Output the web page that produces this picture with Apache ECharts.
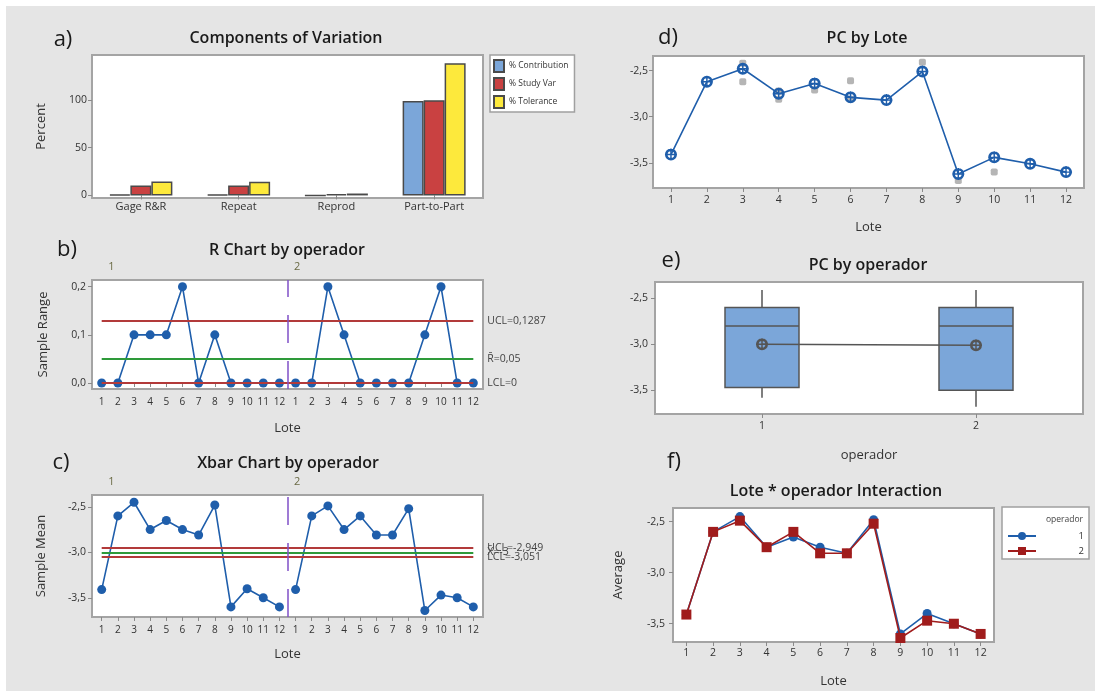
<!DOCTYPE html>
<html>
<head>
<meta charset="utf-8">
<script src="https://cdn.jsdelivr.net/npm/echarts@6/dist/echarts.min.js"></script>
<style>
  html, body { margin: 0; padding: 0; background: #ffffff; }
  #chart { width: 1095px; height: 691px; }
</style>
</head>
<body>
<div id="chart"></div>
<script>
// ---- Gage R&R study: components of variation ----
const componentNames = ['Gage R&R', 'Repeat', 'Reprod', 'Part-to-Part'];
const pctContribution = [1.1, 1.1, 0.05, 98.9];
const pctStudyVar = [10.4, 10.3, 1.5, 99.5];
const pctTolerance = [14.5, 14.3, 2.0, 138.4];
const componentSeriesNames = ['% Contribution', '% Study Var', '% Tolerance'];

// ---- Lots and operators ----
const loteLabels = ['1', '2', '3', '4', '5', '6', '7', '8', '9', '10', '11', '12'];
const operadorLabels = ['1', '2'];

// R chart by operator (sample ranges per lot)
const rangeOp1 = [0, 0, 0.1, 0.1, 0.1, 0.2, 0, 0.1, 0, 0, 0, 0];
const rangeOp2 = [0, 0, 0.2, 0.1, 0, 0, 0, 0, 0.1, 0.2, 0, 0];
const rLimits = { ucl: 0.1287, center: 0.05, lcl: 0 };

// Xbar chart by operator (sample means per lot) - also used by the interaction plot
const meanOp1 = [-3.41, -2.6, -2.45, -2.75, -2.65, -2.75, -2.81, -2.48, -3.6, -3.4, -3.5, -3.6];
const meanOp2 = [-3.41, -2.6, -2.49, -2.75, -2.6, -2.81, -2.81, -2.52, -3.64, -3.47, -3.5, -3.6];
const xLimits = { ucl: -2.949, center: -3, lcl: -3.051 };

// PC by Lote: lot means and the individual readings that stand apart from them
const loteMeans = [-3.41, -2.62, -2.48, -2.75, -2.64, -2.79, -2.82, -2.51, -3.62, -3.44, -3.51, -3.6];
const loteObservations = [
  [3, -2.42], [3, -2.62], [4, -2.72], [4, -2.81], [5, -2.71],
  [6, -2.61], [6, -2.81], [8, -2.41], [9, -3.69], [10, -3.6]
];

// PC by operador: [min, Q1, median, Q3, max] and mean per operator
const operadorBox = [
  [-3.58, -3.47, -2.8, -2.6, -2.41],
  [-3.68, -3.5, -2.8, -2.6, -2.41]
];
const operadorMeans = [-3.0, -3.01];

// ---- helpers ----
const FONT = 'Open Sans';
const TEXT = '#333333';
const BLUE = '#1f5eab';
const DARKRED = '#a01c1c';
const comma = v => v.toFixed(1).replace('.', ',');
const commaRaw = v => String(v).replace('.', ',');
const loteSeq = loteLabels.map((_, i) => i + 1);
const loteSeq24 = loteSeq.concat(loteSeq.map(v => v + 12));
// circle with a cross (mean marker)
const CIRCLE_CROSS = 'path://M10,0A10,10 0 1,1 10,20A10,10 0 1,1 10,0Z M10,4.4A5.6,5.6 0 1,0 10,15.6A5.6,5.6 0 1,0 10,4.4Z M8.8,0L11.2,0L11.2,20L8.8,20Z M0,8.8L20,8.8L20,11.2L0,11.2Z';

const gridBase = {
  show: true, backgroundColor: '#ffffff', borderColor: '#a4a4a4', borderWidth: 2,
  containLabel: false, outerBoundsMode: 'none'
};
const tick = { show: true, inside: false, length: 4, lineStyle: { color: '#8a8a8a', width: 1 } };
const lbl = (extra) => Object.assign({ color: TEXT, fontFamily: FONT, fontSize: 10.5 }, extra);
const axisName = { color: TEXT, fontFamily: FONT, fontSize: 13 };

function titleAt(text, x, y, size, weight) {
  return {
    text, left: x, top: y, textAlign: 'center', textVerticalAlign: 'middle', padding: 0,
    textStyle: { fontFamily: FONT, fontSize: size, fontWeight: weight, color: '#1a1a1a' }
  };
}

// ---- limit lines for the control charts ----
function limitLines(lim, labels) {
  const red = { color: '#b23a3a', width: 2, type: 'solid' };
  const green = { color: '#2e9a3a', width: 2, type: 'solid' };
  const seg = (v, name, style) => [
    { name, coord: [1, v], lineStyle: style },
    { coord: [24, v] }
  ];
  return {
    silent: true, symbol: ['none', 'none'],
    label: { show: true, position: 'end', distance: 14, formatter: '{b}', color: '#444', fontFamily: FONT, fontSize: 10.5 },
    data: [
      seg(lim.ucl, labels[0], red),
      seg(lim.center, labels[1], green),
      seg(lim.lcl, labels[2], red),
      { xAxis: 12.5, label: { show: false }, lineStyle: { color: '#8050c8', width: 1.5, type: [28, 18] } }
    ]
  };
}

const chart = echarts.init(document.getElementById('chart'), null, { renderer: 'canvas' });

const option = {
  animation: false,
  backgroundColor: '#e5e5e5',
  graphic: [
    { type: 'rect', shape: { x: 0, y: 0, width: 1095, height: 6 }, style: { fill: '#ffffff' }, silent: true },
    { type: 'rect', shape: { x: 0, y: 0, width: 6, height: 691 }, style: { fill: '#ffffff' }, silent: true }
  ],
  title: [
    titleAt('a)', 63, 40, 22, 'normal'),
    titleAt('b)', 67, 250, 22, 'normal'),
    titleAt('c)', 61, 463, 22, 'normal'),
    titleAt('d)', 668, 38, 22, 'normal'),
    titleAt('e)', 671, 261, 22, 'normal'),
    titleAt('f)', 674, 462, 22, 'normal'),
    titleAt('Components of Variation', 286, 38, 16, 600),
    titleAt('R Chart by operador', 287, 250, 16, 600),
    titleAt('Xbar Chart by operador', 288, 463, 16, 600),
    titleAt('PC by Lote', 867, 38, 16, 600),
    titleAt('PC by operador', 868, 265, 16, 600),
    titleAt('Lote * operador Interaction', 836, 491, 16, 600),
    {
      text: 'operador', right: 12, top: 520, textVerticalAlign: 'middle', padding: 0,
      textStyle: { fontFamily: FONT, fontSize: 8.5, fontWeight: 'normal', color: '#444' }
    }
  ],
  legend: [
    {
      data: componentSeriesNames, orient: 'vertical', left: 490, top: 55,
      icon: 'rect', itemWidth: 10, itemHeight: 12, itemGap: 4,
      padding: [4, 6, 3, 3],
      backgroundColor: '#ffffff', borderColor: '#a0a0a0', borderWidth: 1.5,
      formatter: '{t|{name}}',
      textStyle: { rich: { t: { width: 72, fontFamily: FONT, fontSize: 8.5, color: TEXT } } },
      selectedMode: false
    },
    {
      data: operadorLabels, orient: 'vertical', left: 1002, top: 507,
      itemWidth: 28, itemHeight: 10, itemGap: 5,
      padding: [24, 5, 3, 5],
      backgroundColor: '#ffffff', borderColor: '#a0a0a0', borderWidth: 1.5,
      formatter: '{r|{name}}',
      textStyle: { rich: { r: { width: 43, align: 'right', fontFamily: FONT, fontSize: 9.5, color: TEXT } } },
      selectedMode: false
    }
  ],
  grid: [
    Object.assign({ left: 92, top: 55, width: 391, height: 143 }, gridBase),     // a
    Object.assign({ left: 92, top: 280, width: 391, height: 109 }, gridBase),    // b
    Object.assign({ left: 92, top: 495, width: 391, height: 122 }, gridBase),    // c
    Object.assign({ left: 653, top: 56, width: 431, height: 132 }, gridBase),    // d
    Object.assign({ left: 655, top: 282, width: 428, height: 132 }, gridBase),   // e
    Object.assign({ left: 673, top: 508, width: 321, height: 134 }, gridBase)    // f
  ],
  xAxis: [
    { // 0: a
      type: 'category', gridIndex: 0, data: componentNames,
      axisLine: { show: false }, axisTick: Object.assign({ alignWithLabel: true }, tick),
      axisLabel: lbl({ margin: 3, fontSize: 11 })
    },
    { // 1: b bottom
      type: 'value', gridIndex: 1, min: 0.4, max: 24.6,
      axisLine: { show: false }, splitLine: { show: false },
      axisTick: Object.assign({ customValues: loteSeq24 }, tick),
      axisLabel: lbl({ customValues: loteSeq24, margin: 8, fontSize: 10, formatter: v => loteLabels[(Math.round(v) - 1) % 12] }),
      name: 'Lote', nameLocation: 'middle', nameGap: 33, nameTextStyle: axisName
    },
    { // 2: b top (operator groups)
      type: 'value', gridIndex: 1, position: 'top', min: 0.4, max: 24.6,
      axisLine: { show: false }, splitLine: { show: false }, axisTick: { show: false },
      axisLabel: lbl({ customValues: [1.6, 13.1], margin: 8, fontSize: 11, color: '#6b6b45', formatter: v => operadorLabels[v < 12.5 ? 0 : 1] })
    },
    { // 3: c bottom
      type: 'value', gridIndex: 2, min: 0.4, max: 24.6,
      axisLine: { show: false }, splitLine: { show: false },
      axisTick: Object.assign({ customValues: loteSeq24 }, tick),
      axisLabel: lbl({ customValues: loteSeq24, margin: 8, fontSize: 10, formatter: v => loteLabels[(Math.round(v) - 1) % 12] }),
      name: 'Lote', nameLocation: 'middle', nameGap: 31, nameTextStyle: axisName
    },
    { // 4: c top (operator groups)
      type: 'value', gridIndex: 2, position: 'top', min: 0.4, max: 24.6,
      axisLine: { show: false }, splitLine: { show: false }, axisTick: { show: false },
      axisLabel: lbl({ customValues: [1.6, 13.1], margin: 8, fontSize: 11, color: '#6b6b45', formatter: v => operadorLabels[v < 12.5 ? 0 : 1] })
    },
    { // 5: d
      type: 'value', gridIndex: 3, min: 0.5, max: 12.5,
      axisLine: { show: false }, splitLine: { show: false },
      axisTick: Object.assign({ customValues: loteSeq }, tick),
      axisLabel: lbl({ customValues: loteSeq, margin: 7, formatter: v => loteLabels[Math.round(v) - 1] }),
      name: 'Lote', nameLocation: 'middle', nameGap: 33, nameTextStyle: axisName
    },
    { // 6: e
      type: 'category', gridIndex: 4, data: operadorLabels,
      axisLine: { show: false }, axisTick: Object.assign({ alignWithLabel: true }, tick),
      axisLabel: lbl({ margin: 7 }),
      name: 'operador', nameLocation: 'middle', nameGap: 35, nameTextStyle: axisName
    },
    { // 7: f
      type: 'value', gridIndex: 5, min: 0.5, max: 12.5,
      axisLine: { show: false }, splitLine: { show: false },
      axisTick: Object.assign({ customValues: loteSeq }, tick),
      axisLabel: lbl({ customValues: loteSeq, margin: 6, formatter: v => loteLabels[Math.round(v) - 1] }),
      name: 'Lote', nameLocation: 'middle', nameGap: 33, nameTextStyle: axisName
    }
  ],
  yAxis: [
    { // a
      type: 'value', gridIndex: 0, min: -2.7, max: 147,
      axisLine: { show: false }, splitLine: { show: false },
      axisTick: Object.assign({ customValues: [0, 50, 100] }, tick),
      axisLabel: lbl({ customValues: [0, 50, 100], margin: 5 }),
      name: 'Percent', nameLocation: 'middle', nameGap: 44, nameTextStyle: axisName
    },
    { // b
      type: 'value', gridIndex: 1, min: -0.0124, max: 0.2139,
      axisLine: { show: false }, splitLine: { show: false },
      axisTick: Object.assign({ customValues: [0, 0.1, 0.2] }, tick),
      axisLabel: lbl({ customValues: [0, 0.1, 0.2], margin: 6, formatter: comma }),
      name: 'Sample Range', nameLocation: 'middle', nameGap: 42, nameTextStyle: axisName
    },
    { // c
      type: 'value', gridIndex: 2, min: -3.711, max: -2.37,
      axisLine: { show: false }, splitLine: { show: false },
      axisTick: Object.assign({ customValues: [-3.5, -3, -2.5] }, tick),
      axisLabel: lbl({ customValues: [-3.5, -3, -2.5], margin: 6, formatter: comma }),
      name: 'Sample Mean', nameLocation: 'middle', nameGap: 44, nameTextStyle: axisName
    },
    { // d
      type: 'value', gridIndex: 3, min: -3.772, max: -2.342,
      axisLine: { show: false }, splitLine: { show: false },
      axisTick: Object.assign({ customValues: [-3.5, -3, -2.5] }, tick),
      axisLabel: lbl({ customValues: [-3.5, -3, -2.5], margin: 5, formatter: comma })
    },
    { // e
      type: 'value', gridIndex: 4, min: -3.758, max: -2.322,
      axisLine: { show: false }, splitLine: { show: false },
      axisTick: Object.assign({ customValues: [-3.5, -3, -2.5] }, tick),
      axisLabel: lbl({ customValues: [-3.5, -3, -2.5], margin: 7, formatter: comma })
    },
    { // f
      type: 'value', gridIndex: 5, min: -3.679, max: -2.366,
      axisLine: { show: false }, splitLine: { show: false },
      axisTick: Object.assign({ customValues: [-3.5, -3, -2.5] }, tick),
      axisLabel: lbl({ customValues: [-3.5, -3, -2.5], margin: 8, formatter: comma }),
      name: 'Average', nameLocation: 'middle', nameGap: 48, nameTextStyle: axisName
    }
  ],
  series: [
    // a) components of variation
    {
      type: 'bar', name: componentSeriesNames[0], xAxisIndex: 0, yAxisIndex: 0, data: pctContribution,
      barWidth: 21, barGap: '0%', itemStyle: { color: '#7ba6d9', borderColor: '#4a4a4a', borderWidth: 1.5 }
    },
    {
      type: 'bar', name: componentSeriesNames[1], xAxisIndex: 0, yAxisIndex: 0, data: pctStudyVar,
      barWidth: 21, barGap: '0%', itemStyle: { color: '#c94141', borderColor: '#4a4a4a', borderWidth: 1.5 }
    },
    {
      type: 'bar', name: componentSeriesNames[2], xAxisIndex: 0, yAxisIndex: 0, data: pctTolerance,
      barWidth: 21, barGap: '0%', itemStyle: { color: '#fde93c', borderColor: '#4a4a4a', borderWidth: 1.5 }
    },

    // b) R chart by operator
    {
      type: 'line', name: 'R op1', xAxisIndex: 1, yAxisIndex: 1,
      data: rangeOp1.map((v, i) => [loteSeq24[i], v]),
      symbol: 'circle', symbolSize: 9, z: 3,
      lineStyle: { color: BLUE, width: 1.6 }, itemStyle: { color: BLUE },
      markLine: limitLines(rLimits, [
        'UCL=' + commaRaw(rLimits.ucl),
        'R\u0304=' + commaRaw(rLimits.center),
        'LCL=' + commaRaw(rLimits.lcl)
      ])
    },
    {
      type: 'line', name: 'R op2', xAxisIndex: 1, yAxisIndex: 1,
      data: rangeOp2.map((v, i) => [loteSeq24[i + 12], v]),
      symbol: 'circle', symbolSize: 9, z: 3,
      lineStyle: { color: BLUE, width: 1.6 }, itemStyle: { color: BLUE }
    },

    // c) Xbar chart by operator
    {
      type: 'line', name: 'Xbar op1', xAxisIndex: 3, yAxisIndex: 2,
      data: meanOp1.map((v, i) => [loteSeq24[i], v]),
      symbol: 'circle', symbolSize: 9, z: 3,
      lineStyle: { color: BLUE, width: 1.6 }, itemStyle: { color: BLUE },
      markLine: limitLines(xLimits, [
        'UCL=' + commaRaw(xLimits.ucl),
        'X\u0304=' + commaRaw(xLimits.center),
        'LCL=' + commaRaw(xLimits.lcl)
      ])
    },
    {
      type: 'line', name: 'Xbar op2', xAxisIndex: 3, yAxisIndex: 2,
      data: meanOp2.map((v, i) => [loteSeq24[i + 12], v]),
      symbol: 'circle', symbolSize: 9, z: 3,
      lineStyle: { color: BLUE, width: 1.6 }, itemStyle: { color: BLUE }
    },

    // d) PC by Lote
    {
      type: 'scatter', name: 'Observaciones', xAxisIndex: 5, yAxisIndex: 3,
      data: loteObservations, symbol: 'roundRect', symbolSize: 7,
      itemStyle: { color: '#a3a3a3' }, z: 2
    },
    {
      type: 'line', name: 'Media lote', xAxisIndex: 5, yAxisIndex: 3,
      data: loteMeans.map((v, i) => [loteSeq[i], v]),
      symbol: CIRCLE_CROSS, symbolSize: 12, z: 3,
      lineStyle: { color: BLUE, width: 1.6 }, itemStyle: { color: BLUE }
    },

    // e) PC by operador
    {
      type: 'custom', name: 'Caja', xAxisIndex: 6, yAxisIndex: 4,
      data: operadorBox.map((b, i) => [i].concat(b)),
      encode: { x: 0, y: [1, 2, 3, 4, 5] },
      renderItem: (params, api) => {
        const idx = api.value(0);
        const p = k => api.coord([idx, api.value(k)]);
        const cx = p(1)[0];
        const yMin = p(1)[1], yQ1 = p(2)[1], yMed = p(3)[1], yQ3 = p(4)[1], yMax = p(5)[1];
        const hw = 37;
        const stroke = { stroke: '#555555', lineWidth: 1.5 };
        return {
          type: 'group',
          children: [
            { type: 'line', shape: { x1: cx, y1: yMax, x2: cx, y2: yQ3 }, style: stroke },
            { type: 'line', shape: { x1: cx, y1: yQ1, x2: cx, y2: yMin }, style: stroke },
            { type: 'rect', shape: { x: cx - hw, y: yQ3, width: hw * 2, height: yQ1 - yQ3 },
              style: { fill: '#7ba6d9', stroke: '#555555', lineWidth: 1.5 } },
            { type: 'line', shape: { x1: cx - hw, y1: yMed, x2: cx + hw, y2: yMed }, style: stroke }
          ]
        };
      },
      z: 2
    },
    {
      type: 'line', name: 'Media operador', xAxisIndex: 6, yAxisIndex: 4,
      data: operadorMeans,
      symbol: CIRCLE_CROSS, symbolSize: 12, z: 3,
      lineStyle: { color: '#555555', width: 1.5 }, itemStyle: { color: '#555555' }
    },

    // f) Lote * operador interaction
    {
      type: 'line', name: operadorLabels[0], xAxisIndex: 7, yAxisIndex: 5,
      data: meanOp1.map((v, i) => [loteSeq[i], v]),
      symbol: 'circle', symbolSize: 9, z: 3,
      lineStyle: { color: BLUE, width: 1.6 }, itemStyle: { color: BLUE }
    },
    {
      type: 'line', name: operadorLabels[1], xAxisIndex: 7, yAxisIndex: 5,
      data: meanOp2.map((v, i) => [loteSeq[i], v]),
      symbol: 'rect', symbolSize: 10, z: 4,
      lineStyle: { color: DARKRED, width: 1.6 }, itemStyle: { color: DARKRED }
    }
  ]
};

chart.setOption(option);
</script>
</body>
</html>
